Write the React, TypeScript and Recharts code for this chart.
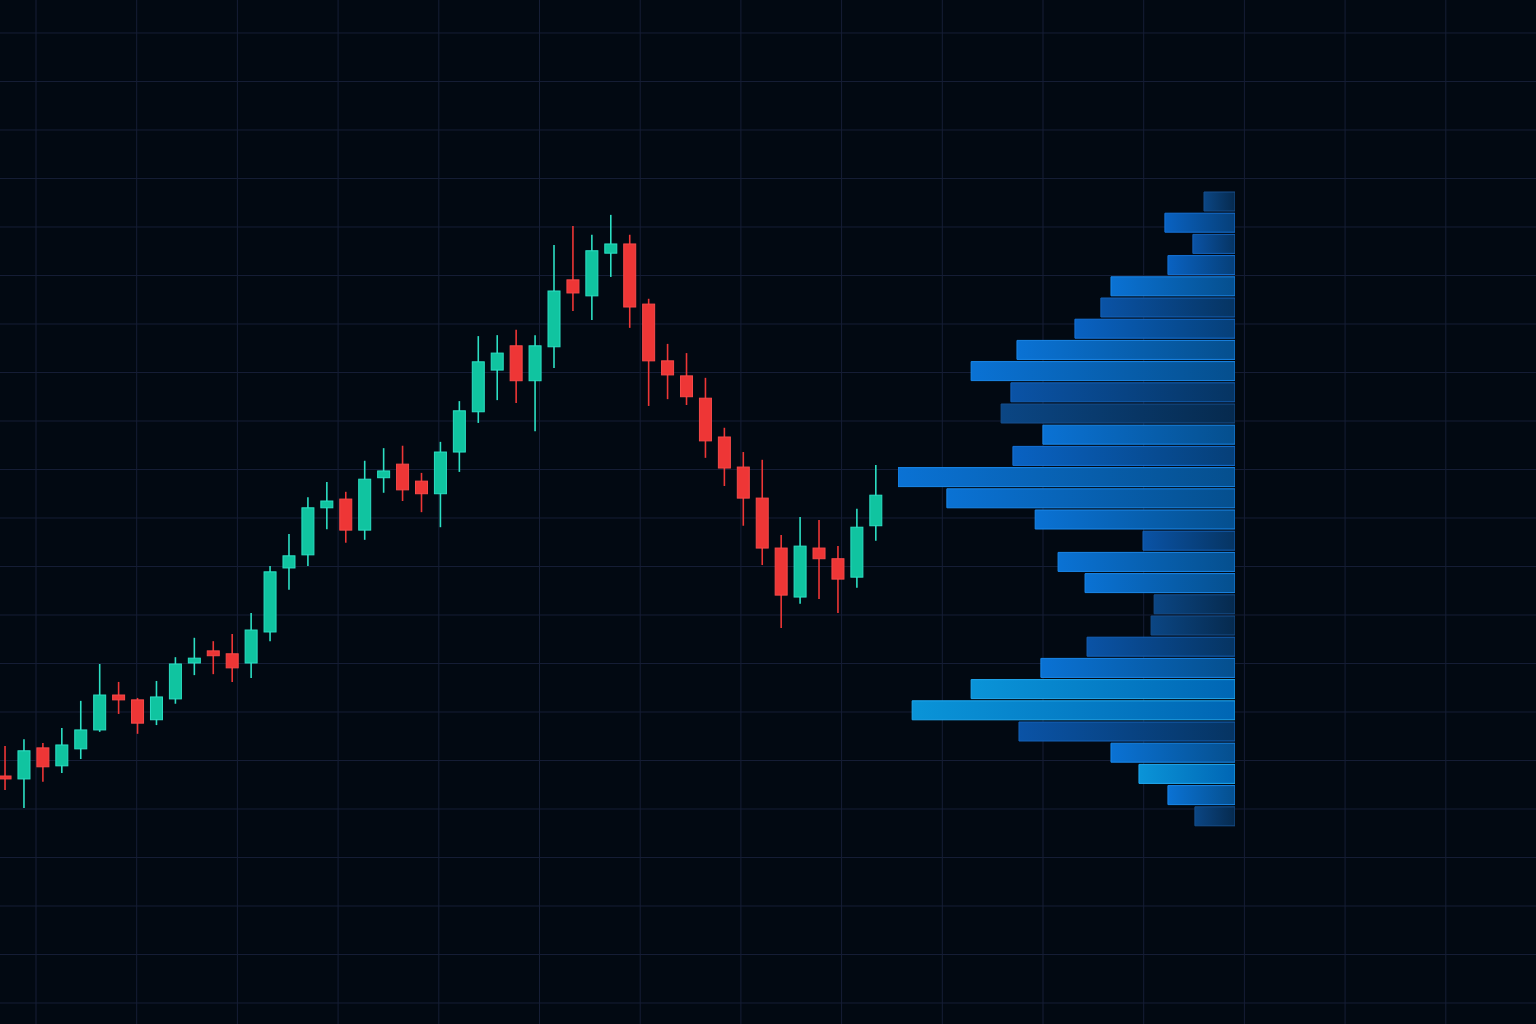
import React from 'react';
import { ComposedChart, BarChart, Bar, XAxis, YAxis, CartesianGrid, Cell } from 'recharts';

// ---- Candlestick data (one entry per session) ----
const candleOpen = [146.8, 146.2, 152.6, 148.9, 152.4, 156.3, 163.5, 162.5, 158.4, 162.7, 170.1, 172.6, 172.0, 170.1, 176.5, 189.7, 192.4, 202.1, 203.9, 197.5, 208.3, 211.1, 207.6, 205.0, 213.6, 221.9, 230.5, 235.5, 228.3, 235.3, 249.1, 245.8, 254.6, 256.5, 244.1, 232.4, 229.3, 224.7, 216.7, 210.5, 204.1, 193.8, 183.7, 193.8, 191.6, 187.8, 198.4];
const candleHigh = [153.0, 154.4, 153.6, 156.7, 162.3, 169.9, 166.2, 162.9, 166.4, 171.3, 175.3, 174.6, 176.1, 180.4, 190.1, 196.7, 204.3, 207.4, 205.4, 211.8, 214.4, 214.9, 209.3, 215.7, 224.1, 237.5, 237.7, 238.8, 237.7, 256.3, 260.2, 258.4, 262.5, 258.4, 245.2, 235.9, 234.0, 228.9, 218.6, 213.6, 212.0, 196.5, 200.2, 199.6, 194.2, 201.9, 210.9];
const candleLow = [143.9, 140.2, 145.6, 147.4, 150.3, 155.9, 159.6, 155.5, 157.3, 161.7, 167.6, 167.8, 166.2, 167.0, 174.6, 185.2, 190.1, 197.7, 194.9, 195.5, 205.2, 203.5, 201.2, 198.1, 209.5, 219.6, 224.3, 223.7, 217.9, 230.9, 242.7, 240.8, 249.7, 239.2, 223.1, 224.5, 223.3, 212.4, 206.6, 198.4, 190.3, 177.3, 182.3, 183.3, 180.4, 185.6, 195.3];
const candleClose = [146.2, 152.0, 148.7, 153.2, 156.3, 163.5, 162.5, 157.7, 163.1, 169.9, 171.1, 171.6, 169.1, 176.9, 188.9, 192.2, 202.1, 203.5, 197.5, 208.0, 209.7, 205.8, 205.0, 213.6, 222.1, 232.2, 234.0, 228.3, 235.5, 246.8, 246.4, 255.1, 256.5, 243.5, 232.4, 229.5, 225.0, 215.9, 210.3, 204.1, 193.8, 184.1, 194.2, 191.6, 187.4, 198.1, 204.7];

// ---- Volume profile (top level first) ----
const profilePrice = ['265.2', '260.8', '256.4', '252.1', '247.7', '243.3', '239.0', '234.6', '230.2', '225.9', '221.5', '217.1', '212.8', '208.4', '204.0', '199.7', '195.3', '190.9', '186.5', '182.2', '177.8', '173.4', '169.1', '164.7', '160.3', '156.0', '151.6', '147.2', '142.9', '138.5'];
const profileVolume = [9.2, 20.8, 12.5, 19.9, 36.8, 39.8, 47.5, 64.7, 78.3, 66.5, 69.4, 57.0, 65.9, 100, 85.5, 59.3, 27.3, 52.5, 44.5, 24.0, 24.9, 43.9, 57.6, 78.3, 95.8, 64.1, 36.8, 28.5, 19.9, 11.9];

// ---- Grid ticks (session-index units for x, price units for y) ----
const gridTicksX = [1.638, 6.957, 12.277, 17.596, 22.916, 28.236, 33.555, 38.875, 44.194, 49.514, 54.834, 60.153, 65.473, 70.792, 76.112];
const gridTicksY = [100, 110, 120, 130, 140, 150, 160, 170, 180, 190, 200, 210, 220, 230, 240, 250, 260, 270, 280, 290, 300];

// ---- Styles ----
const profileTone = ['dark', 'med', 'dmed', 'med', 'bright', 'dmed', 'med', 'bright', 'bright', 'dmed', 'dark', 'bright', 'med', 'bright', 'bright', 'bright', 'dmed', 'bright', 'bright', 'dark', 'dark', 'dmed', 'bright', 'cyan', 'cyan', 'dmed', 'bright', 'cyan', 'bright', 'dark'];
const tones: Record<string, { from: string; to: string; stroke: string }> = {
  dark: { from: '#0b4684', to: '#062a4e', stroke: '#164f8c' },
  dmed: { from: '#0a53a6', to: '#063462', stroke: '#1562b8' },
  med: { from: '#0962c2', to: '#063f78', stroke: '#1673d8' },
  bright: { from: '#0a72d4', to: '#054f8e', stroke: '#1a88ea' },
  cyan: { from: '#0a94d8', to: '#0066b4', stroke: '#22aaf2' },
};

const BG = '#020912';
const GRID = '#161e36';
const UP = '#10c4a0';
const UP_EDGE = '#2ce0c4';
const DOWN = '#ee3636';
const DOWN_EDGE = '#f84a4a';

const candles = candleOpen.map((open, i) => ({
  i,
  open,
  high: candleHigh[i],
  low: candleLow[i],
  close: candleClose[i],
  range: [candleLow[i], candleHigh[i]],
}));

const profile = profilePrice.map((price, k) => ({ price, volume: profileVolume[k], tone: profileTone[k] }));

const Candle = (props: any) => {
  const { x, y, width, height, payload } = props;
  if (x == null || y == null) return null;
  const { open, high, low, close } = payload;
  const top = Math.min(y, y + height);
  const h = Math.abs(height);
  const ratio = high - low === 0 ? 0 : h / (high - low);
  const bodyTop = top + (high - Math.max(open, close)) * ratio;
  const bodyBottom = top + (high - Math.min(open, close)) * ratio;
  const up = close >= open;
  const cx = x + width / 2;
  return (
    <g>
      <line x1={cx} x2={cx} y1={top} y2={top + h} stroke={up ? UP_EDGE : DOWN} strokeWidth={1.6} />
      <rect
        x={x + 0.5}
        y={bodyTop}
        width={width - 1}
        height={Math.max(bodyBottom - bodyTop, 2)}
        fill={up ? UP : DOWN}
        stroke={up ? UP_EDGE : DOWN_EDGE}
        strokeWidth={1}
      />
    </g>
  );
};

export default function App() {
  return (
    <div style={{ position: 'absolute', left: 0, top: 0, width: 1536, height: 1024, background: BG, overflow: 'hidden' }}>
      <div style={{ position: 'absolute', left: 0, top: 0 }}>
        <ComposedChart width={1536} height={1024} data={candles} margin={{ top: 0, right: 0, bottom: 0, left: 0 }}>
          <XAxis dataKey="i" type="number" domain={[-0.2641, 80.877]} allowDataOverflow hide />
          <YAxis type="number" domain={[95.67, 306.8]} ticks={gridTicksY} allowDataOverflow hide />
          <CartesianGrid stroke={GRID} strokeWidth={1} verticalValues={gridTicksX} horizontalValues={gridTicksY} />
          <Bar dataKey="range" barSize={13} shape={<Candle />} isAnimationActive={false} />
        </ComposedChart>
      </div>
      <div style={{ position: 'absolute', left: 898, top: 191 }}>
        <BarChart
          width={337}
          height={636}
          data={profile}
          layout="vertical"
          margin={{ top: 0, right: 0, bottom: 0, left: 0 }}
          barCategoryGap={1}
        >
          <defs>
            {Object.keys(tones).map((t) => (
              <linearGradient key={t} id={`vp-${t}`} x1="0" y1="0" x2="1" y2="0">
                <stop offset="0%" stopColor={tones[t].from} />
                <stop offset="100%" stopColor={tones[t].to} />
              </linearGradient>
            ))}
          </defs>
          <XAxis type="number" domain={[0, 100]} reversed allowDataOverflow hide />
          <YAxis type="category" dataKey="price" hide />
          <Bar dataKey="volume" isAnimationActive={false} strokeWidth={1}>
            {profile.map((p, k) => (
              <Cell key={k} fill={`url(#vp-${p.tone})`} stroke={tones[p.tone].stroke} />
            ))}
          </Bar>
        </BarChart>
      </div>
    </div>
  );
}
